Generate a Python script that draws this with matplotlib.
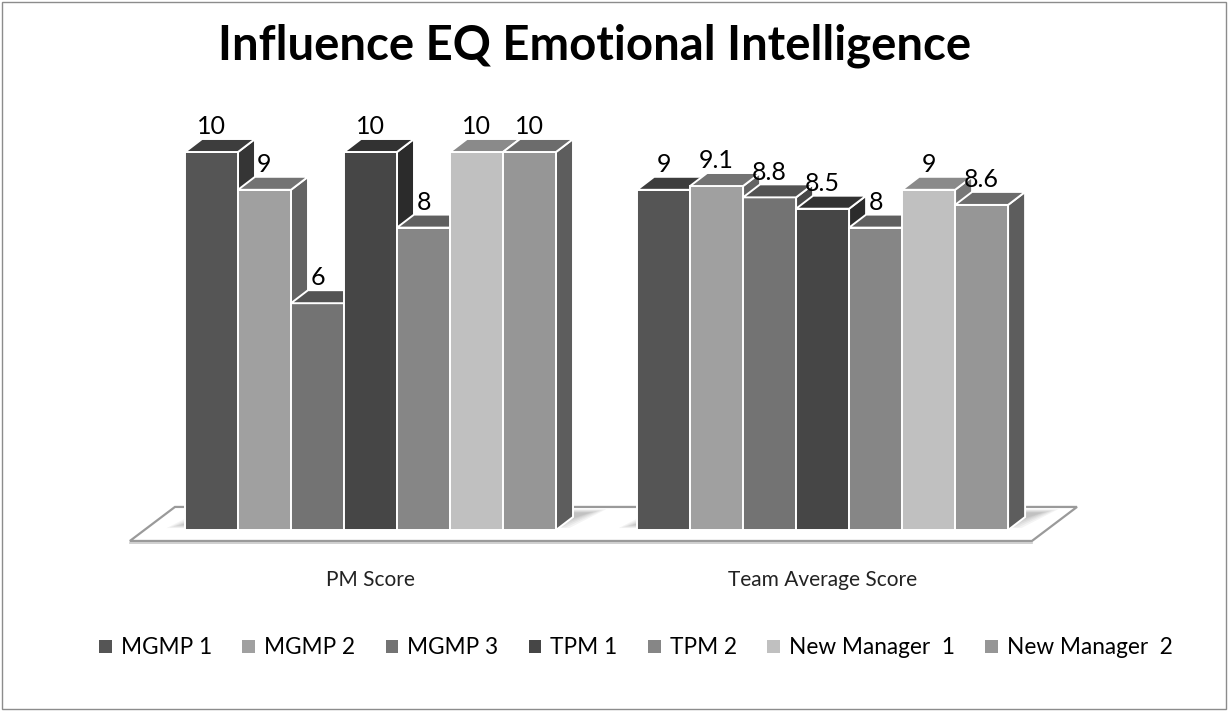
import matplotlib.pyplot as plt
from matplotlib.patches import Polygon, Patch, Rectangle

# ---------------- data ----------------
categories = ['PM Score', 'Team Average Score']
series = ['MGMP 1', 'MGMP 2', 'MGMP 3', 'TPM 1', 'TPM 2', 'New Manager  1', 'New Manager  2']
pm_score = [10, 9, 6, 10, 8, 10, 10]
team_avg = [9, 9.1, 8.8, 8.5, 8, 9, 8.6]
value_labels = [['10', '9', '6', '10', '8', '10', '10'],
                ['9', '9.1', '8.8', '8.5', '8', '9', '8.6']]
colors = ['#555555', '#a0a0a0', '#737373', '#464646', '#868686', '#c0c0c0', '#969696']

# ---------------- style ----------------
plt.rcParams['font.family'] = ['Lato', 'DejaVu Sans']

W, H = 1228, 711
fig = plt.figure(figsize=(W / 100, H / 100), dpi=100)
ax = fig.add_axes([0, 0, 1, 1])
ax.set_axis_off()

# one x unit = one bar width (53 px), one y unit = one score point (37.8 px)
px_x, px_y = 53.0, 37.8
x0_px, y0_px = 185, 530
ax.set_xlim(-x0_px / px_x, (W - x0_px) / px_x)
ax.set_ylim(-(H - y0_px) / px_y, y0_px / px_y)

dx, dy = 17 / px_x, 13 / px_y          # 3d depth
group_gap = 8.53                         # bar widths between group starts
values = [pm_score, team_avg]


def shade(hexcol, f):
    r, g, b = [int(hexcol[i:i + 2], 16) for i in (1, 3, 5)]
    return (r * f / 255, g * f / 255, b * f / 255)


# floor slab
n = len(series)
fl_left = -1.04
fl_right = group_gap + n + 0.45
fl_y = -0.29
fdx, fdy = 0.85, 0.90
ax.add_patch(Polygon([(fl_left, fl_y), (fl_right, fl_y),
                      (fl_right + fdx, fl_y + fdy), (fl_left + fdx, fl_y + fdy)],
                     closed=True, facecolor='white', edgecolor='#9a9a9a', lw=1.6, zorder=1))
ax.plot([fl_left, fl_right], [fl_y - 0.06, fl_y - 0.06], color='#c8c8c8', lw=1.2, zorder=1)

# soft shadows on the floor
for g in range(2):
    gx = g * group_gap
    for k in range(6):
        s = k * 0.06
        ax.add_patch(Polygon([(gx - 0.35 + s, 0.05 + s * 0.3), (gx + n + 0.25 - s, 0.05 + s * 0.3),
                              (gx + n + 0.95 - s, 0.55 - s * 0.3), (gx + 0.35 + s, 0.55 - s * 0.3)],
                             closed=True, facecolor='black', edgecolor='none', alpha=0.045, zorder=2))

# bars
for g, vals in enumerate(values):
    for i, v in enumerate(vals):
        x = g * group_gap + i
        c = colors[i]
        z = 3 + i
        ax.add_patch(Polygon([(x, 0), (x + 1, 0), (x + 1, v), (x, v)], closed=True,
                             facecolor=c, edgecolor='white', lw=1.4, zorder=z))
        ax.add_patch(Polygon([(x, v), (x + 1, v), (x + 1 + dx, v + dy), (x + dx, v + dy)], closed=True,
                             facecolor=shade(c, 0.72), edgecolor='white', lw=1.4, zorder=z))
        ax.add_patch(Polygon([(x + 1, 0), (x + 1 + dx, dy), (x + 1 + dx, v + dy), (x + 1, v)], closed=True,
                             facecolor=shade(c, 0.62), edgecolor='white', lw=1.4, zorder=z - 0.5))
        ax.text(x + 0.5, v + dy + 0.02, value_labels[g][i], ha='center', va='bottom',
                fontsize=18, color='black', zorder=20)

# category labels
for g, cat in enumerate(categories):
    ax.text(g * group_gap + n / 2, -(580 - y0_px) / px_y, cat, ha='center', va='center',
            fontsize=15, color='#222222')

# title
fig.text(595 / W, 1 - 46 / H, 'Influence EQ Emotional Intelligence', ha='center', va='center',
         fontsize=34, fontweight='bold', color='black')

# legend
handles = [Patch(facecolor=c, edgecolor='none') for c in colors]
fig.legend(handles, series, loc='center', bbox_to_anchor=(636 / W, 1 - 648 / H), ncol=7,
           frameon=False, fontsize=16.3, handlelength=0.55, handleheight=0.55,
           handletextpad=0.4, columnspacing=1.35)

# chart border
fig.patches.append(Rectangle((0.002, 0.003), 0.996, 0.994, transform=fig.transFigure,
                             fill=False, edgecolor='#8c8c8c', lw=1.0))

fig.savefig('out.png', dpi=100, facecolor='white')
